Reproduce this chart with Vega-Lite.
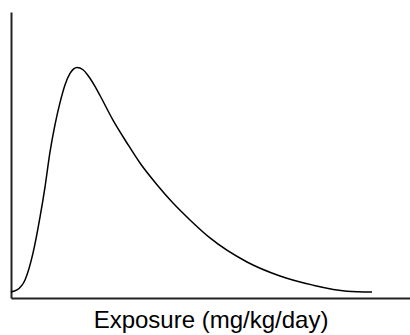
{
  "$schema": "https://vega.github.io/schema/vega-lite/v6.json",
  "width": 399,
  "height": 286,
  "autosize": {"type": "none"},
  "padding": {"left": 11, "top": 12, "right": 0, "bottom": 37},
  "background": "white",
  "config": {"view": {"stroke": null}, "font": "Liberation Sans"},
  "data": {"values": [
    {"exposure": 0, "density": 0.021},
    {"exposure": 1.5, "density": 0.028},
    {"exposure": 3.51, "density": 0.063},
    {"exposure": 5.51, "density": 0.157},
    {"exposure": 7.27, "density": 0.283},
    {"exposure": 8.52, "density": 0.388},
    {"exposure": 9.77, "density": 0.51},
    {"exposure": 11.03, "density": 0.606},
    {"exposure": 12.28, "density": 0.683},
    {"exposure": 13.53, "density": 0.745},
    {"exposure": 14.79, "density": 0.785},
    {"exposure": 16.54, "density": 0.806},
    {"exposure": 18.05, "density": 0.798},
    {"exposure": 19.3, "density": 0.778},
    {"exposure": 21.05, "density": 0.74},
    {"exposure": 22.31, "density": 0.708},
    {"exposure": 25.56, "density": 0.622},
    {"exposure": 29.07, "density": 0.542},
    {"exposure": 32.33, "density": 0.472},
    {"exposure": 36.59, "density": 0.396},
    {"exposure": 40.6, "density": 0.332},
    {"exposure": 44.86, "density": 0.273},
    {"exposure": 49.87, "density": 0.21},
    {"exposure": 59.15, "density": 0.126},
    {"exposure": 67.42, "density": 0.077},
    {"exposure": 75.69, "density": 0.045},
    {"exposure": 84.21, "density": 0.024},
    {"exposure": 90.48, "density": 0.021}
  ]},
  "mark": {"type": "line", "color": "black", "strokeWidth": 1.5, "interpolate": "monotone"},
  "encoding": {
    "x": {
      "field": "exposure", "type": "quantitative",
      "scale": {"domain": [0, 100], "nice": false, "zero": false},
      "axis": {
        "title": "Exposure (mg/kg/day)", "labels": false, "ticks": false, "grid": false,
        "domainColor": "#222", "domainWidth": 2,
        "titleFontSize": 24, "titleFontWeight": "normal", "titleColor": "black",
        "titleBaseline": "alphabetic", "titlePadding": 29
      }
    },
    "y": {
      "field": "density", "type": "quantitative",
      "scale": {"domain": [0, 1], "nice": false, "zero": false},
      "axis": {
        "title": null, "labels": false, "ticks": false, "grid": false,
        "domainColor": "#222", "domainWidth": 2
      }
    }
  }
}
